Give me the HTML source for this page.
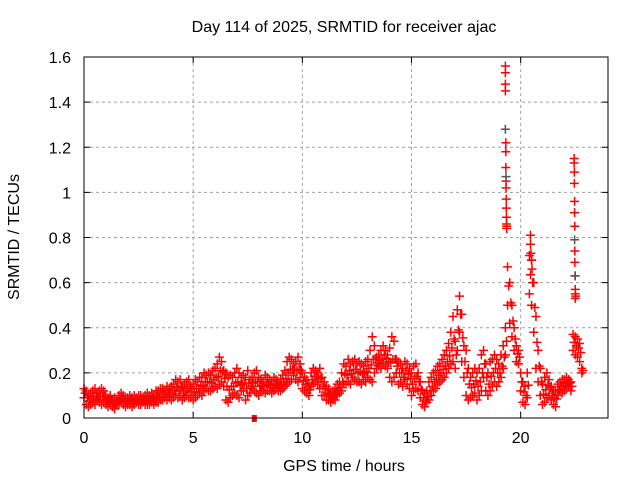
<!DOCTYPE html>
<html><head><meta charset="utf-8"><style>
body{margin:0;background:#fff;width:640px;height:480px;overflow:hidden}
svg{font-family:"Liberation Sans",sans-serif;font-size:16px}
</style></head><body>
<svg id="c" width="640" height="480">
<text x="344" y="32" text-anchor="middle">Day 114 of 2025, SRMTID for receiver ajac</text>
<text x="344" y="471" text-anchor="middle">GPS time / hours</text>
<text transform="translate(19,237) rotate(-90)" text-anchor="middle">SRMTID / TECUs</text>
<g id="grid"></g><g id="ticks"></g><g id="pts"></g>
<rect x="84" y="57" width="524" height="361" fill="none" stroke="#000" stroke-width="1"/>
</svg>
<script>
const xTicks=[0,5,10,15,20];
const yTicks=[0,0.2,0.4,0.6,0.8,1,1.2,1.4,1.6];
const yTickLabels=["0","0.2","0.4","0.6","0.8","1","1.2","1.4","1.6"];
const tStart=0, tStep=0.1;
const lo=[.09,.06,.05,.06,.07,.06,.08,.07,.06,.07,
.06,.05,.06,.05,.04,.06,.06,.07,.06,.05,
.06,.06,.05,.06,.07,.06,.06,.07,.06,.06,
.06,.07,.06,.07,.07,.08,.08,.09,.08,.09,
.08,.09,.10,.09,.10,.08,.09,.10,.09,.09,
.08,.09,.10,.11,.10,.12,.13,.12,.12,.13,
.14,.13,.15,.16,.14,.08,.07,.09,.10,.11,
.10,.09,.12,.12,.08,.10,.11,.13,.12,.11,
.10,.12,.12,.11,.12,.12,.11,.12,.13,.12,
.12,.13,.14,.15,.16,.17,.19,.17,.16,.18,
.13,.12,.11,.10,.14,.15,.16,.15,.13,.10,
.10,.08,.08,.07,.08,.08,.10,.11,.12,.15,
.15,.16,.15,.18,.17,.16,.16,.15,.17,.16,
.18,.17,.16,.20,.22,.23,.22,.24,.23,.22,
.18,.16,.18,.20,.15,.16,.14,.17,.15,.13,
.10,.12,.13,.12,.09,.06,.05,.07,.08,.10,
.12,.13,.15,.16,.17,.18,.20,.22,.24,.25,
.22,.30,.38,.25,.18,.10,.08,.09,.10,.11,
.08,.10,.12,.18,.12,.10,.12,.14,.16,.14,
.16,.18,.22,.28,.50,.42,.36,.30,.25,.24,
.12,.07,.06,.09,.55,.50,.38,.22,.16,.10,
.06,.07,.09,.10,.08,.06,.05,.10,.12,.11,
.12,.13,.14,.12,.30,.28,.27,.25,.20];
const hi=[.13,.12,.10,.11,.12,.13,.11,.12,.13,.12,
.10,.09,.10,.08,.09,.08,.10,.11,.10,.09,
.09,.10,.09,.10,.09,.10,.10,.09,.10,.11,
.10,.11,.10,.12,.12,.13,.13,.12,.14,.13,
.14,.15,.17,.16,.17,.14,.15,.16,.17,.14,
.15,.17,.16,.18,.18,.20,.19,.20,.19,.21,
.22,.24,.27,.25,.21,.20,.18,.19,.18,.20,
.22,.20,.18,.19,.18,.21,.17,.18,.20,.21,
.18,.17,.16,.19,.18,.17,.16,.18,.17,.16,
.17,.19,.21,.25,.27,.26,.24,.25,.27,.24,
.20,.18,.17,.15,.20,.22,.21,.20,.22,.18,
.16,.14,.13,.11,.12,.13,.15,.16,.20,.24,
.23,.26,.24,.25,.26,.24,.25,.24,.23,.25,
.26,.30,.36,.32,.27,.28,.30,.32,.30,.28,
.31,.36,.34,.26,.25,.24,.22,.25,.24,.22,
.20,.23,.24,.20,.16,.12,.11,.12,.16,.18,
.20,.21,.23,.24,.26,.28,.30,.33,.38,.45,
.34,.48,.54,.46,.32,.30,.22,.18,.20,.22,
.20,.22,.28,.30,.24,.20,.25,.26,.28,.26,
.24,.28,.32,.40,.67,.60,.50,.40,.32,.30,
.20,.16,.14,.20,.72,.70,.60,.45,.30,.22,
.15,.18,.20,.17,.14,.12,.12,.15,.16,.17,
.17,.18,.17,.16,.37,.36,.35,.33,.22];
const spikeT=[19.3,19.3,19.3,19.3,19.32,19.32,19.32,19.33,19.33,19.34,19.34,19.35,19.35,19.36,19.36,
22.45,22.45,22.46,22.46,22.47,22.47,22.48,22.48,22.48,22.49,22.5,22.5,22.5,22.52,
20.45,20.45,20.47,20.5,20.52];
const spikeV=[1.56,1.53,1.48,1.45,1.22,1.18,1.11,1.05,1.02,0.97,0.93,0.89,0.86,0.85,0.84,
1.15,1.13,1.09,1.04,0.96,0.91,0.85,0.74,0.69,0.63,0.57,0.55,0.53,0.54,
0.81,0.77,0.73,0.70,0.66];
const grayT=[19.3,22.47,22.5,19.33];
const grayV=[1.28,0.79,0.63,1.07];
const X0=84,X1=608,Y0=418,Y1=57,XMAX=24,YMAX=1.6;
const sx=t=>X0+t*(X1-X0)/XMAX, sy=v=>Y0-v*(Y0-Y1)/YMAX;
const NS="http://www.w3.org/2000/svg";
function mk(tag,attrs,parent){const e=document.createElementNS(NS,tag);for(const k in attrs)e.setAttribute(k,attrs[k]);parent.appendChild(e);return e;}
const grid=document.getElementById('grid'),tk=document.getElementById('ticks'),pts=document.getElementById('pts');
xTicks.forEach(t=>{const x=sx(t);
 if(t>0){const g=mk('line',{x1:x,x2:x,y1:Y1,y2:Y0,stroke:'#a0a0a0','stroke-dasharray':'3,3'},grid);
 
 }
 mk('path',{d:`M${x},${Y0}v-6M${x},${Y1}v6`,stroke:'#000'},tk);
 const l=mk('text',{x:x,y:Y0+25,'text-anchor':'middle'},tk);l.textContent=t;
 
 });
yTicks.forEach((v,i)=>{const y=sy(v);
 if(v>0&&v<YMAX){const g=mk('line',{x1:X0,x2:X1,y1:y,y2:y,stroke:'#a0a0a0','stroke-dasharray':'3,3'},grid);
 
 }
 mk('path',{d:`M${X0},${y}h6M${X1},${y}h-6`,stroke:'#000'},tk);
 const l=mk('text',{x:X0-13,y:y+6,'text-anchor':'end'},tk);l.textContent=yTickLabels[i];
 
 });
function plus(t,v,col){const x=sx(t),y=sy(v);
 const p=mk('path',{d:`M${x-4.5},${y}h9M${x},${y-4.5}v9`,stroke:col,'stroke-width':1.5},pts);
 
 }
lo.forEach((v,i)=>{const t=tStart+i*tStep;plus(t,v,'#f00');plus(t+0.05,(v+hi[i])/2,'#f00');plus(t,hi[i],'#f00');});
spikeT.forEach((t,i)=>plus(t,spikeV[i],'#f00'));
grayT.forEach((t,i)=>plus(t,grayV[i],'#555'));
const sq=mk('rect',{x:sx(7.8)-2.5,y:Y0-3,width:5,height:7,fill:'#f00'},pts);


</script>
</body></html>
